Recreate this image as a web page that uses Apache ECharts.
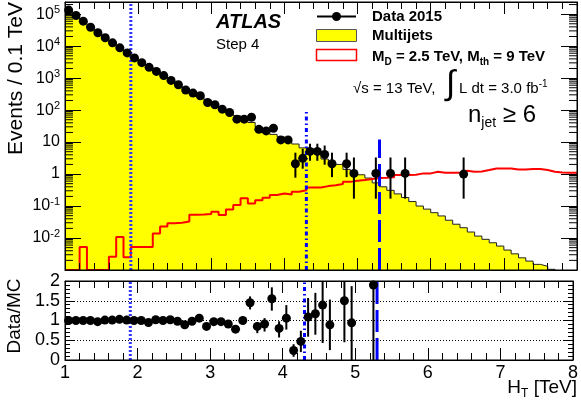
<!DOCTYPE html>
<html><head><meta charset="utf-8">
<script src="https://cdn.jsdelivr.net/npm/echarts@6/dist/echarts.min.js"></script>
<style>html,body{margin:0;padding:0;background:#fff}#c{width:581px;height:402px}</style>
</head><body><div id="c"></div>
<script>
// ---- DATA ----
const binEdges = [1.0,1.1,1.2,1.3,1.4,1.5,1.6,1.7,1.8,1.9,2.0,2.1,2.2,2.3,2.4,2.5,2.6,2.7,2.8,2.9,
  3.0,3.1,3.2,3.3,3.4,3.5,3.6,3.7,3.8,3.9,4.0,4.1,4.2,4.3,4.4,4.5,4.6,4.7,4.8,4.9,
  5.0,5.1,5.2,5.3,5.4,5.5,5.6,5.7,5.8,5.9,6.0,6.1,6.2,6.3,6.4,6.5,6.6,6.7,6.8,6.9,
  7.0,7.1,7.2,7.3,7.4,7.5,7.6,7.7,7.8,7.9,8.0];
const multijets = [134000,91000,60500,39000,27000,18100,12600,8600,6100,4280,
  3040,2280,1590,1200,835,635,478,348,266,204,
  152,110,92,67,52,41,29.4,24.6,17.4,14.6,
  11,8.7,6.6,4.7,4.4,2.95,2.36,2.0,1.4,1.1,
  0.95,0.75,0.53,0.40,0.31,0.24,0.185,0.138,0.10,0.08,
  0.062,0.049,0.036,0.027,0.021,0.0154,0.0115,0.0091,0.0071,0.0056,
  0.0042,0.0032,0.0024,0.0019,0.0015,0.0013,0.00105,0.0007,0.0005,0.0004];
const signal = [0,0,0.0052,0,0,0,0.0026,0.0108,0.0025,0.0052,
  0.0052,0.0052,0.0138,0.023,0.029,0.030,0.033,0.053,0.054,0.056,
  0.066,0.052,0.078,0.107,0.174,0.12,0.153,0.181,0.22,0.248,
  0.23,0.28,0.31,0.38,0.38,0.42,0.45,0.485,0.57,0.62,
  0.65,0.70,0.75,0.77,0.80,0.93,0.93,0.95,1.05,1.05,
  1.18,1.1,1.1,1.1,1.27,1.18,1.2,1.33,1.5,1.5,
  1.5,1.4,1.4,1.45,1.45,1.33,1.18,1.12,1.1,1.1];
const dataX = [1.05,1.15,1.25,1.35,1.45,1.55,1.65,1.75,1.85,1.95,2.05,2.15,2.25,2.35,2.45,2.55,2.65,2.75,2.85,2.95,
  3.05,3.15,3.25,3.35,3.45,3.55,3.65,3.75,3.85,3.95,4.05,4.15,4.25,4.35,4.45,4.55,4.65,4.85,4.95,5.25,5.45,5.65,6.45];
const dataY = [134000,91000,60500,39000,26300,18300,12700,8850,6150,4280,3040,2170,1620,1200,850,620,425,340,282,173,
  147,107,84,52,52,60,25,22.4,27,11.7,11.7,2.1,3.1,5.1,5.1,4.1,2.1,2.1,1.05,1.05,1.05,1.05,1.0];
const dataErrLo = [null,null,null,null,null,null,null,null,null,null,null,null,null,null,null,null,null,null,null,null,
  null,null,null,null,null,null,null,null,null,null,null,0.77,1.47,2.6,2.6,1.96,0.8,0.8,0.17,0.17,0.17,0.17,0.17];
const dataErrHi = [null,null,null,null,null,null,null,null,null,null,null,null,null,null,null,null,null,null,null,null,
  null,null,null,null,null,null,null,null,null,null,null,4.66,6.2,8.9,8.9,7.8,4.66,4.66,3.3,3.3,3.3,3.3,3.3];
const ratioX = [1.05,1.15,1.25,1.35,1.45,1.55,1.65,1.75,1.85,1.95,2.05,2.15,2.25,2.35,2.45,2.55,2.65,2.75,2.85,2.95,
  3.05,3.15,3.25,3.35,3.45,3.55,3.65,3.75,3.85,3.95,4.05,4.15,4.25,4.35,4.45,4.55,4.65,4.85,4.95,5.25];
const ratioY = [1.0,1.0,1.0,1.0,0.97,1.01,1.01,1.03,1.01,1.0,1.0,0.95,1.02,1.0,1.02,0.98,0.89,0.98,1.06,0.85,
  0.97,0.97,0.91,0.78,1.0,1.45,0.85,0.91,1.55,0.80,1.06,0.24,0.47,1.09,1.17,1.39,0.89,1.5,0.94,1.9];
const ratioErrLo = [null,null,null,null,null,null,null,null,null,null,null,null,null,null,null,null,null,null,null,null,
  null,null,null,null,null,1.28,0.68,0.72,1.25,0.57,0.77,0.08,0.2,0.59,0.64,0.43,0.25,0.45,0,0];
const ratioErrHi = [null,null,null,null,null,null,null,null,null,null,null,null,null,null,null,null,null,null,null,null,
  null,null,null,null,null,1.61,0.96,1.06,1.84,0.98,1.39,0.40,0.74,1.57,1.70,2.3,1.53,2.3,1.87,2.6];
const cutValues = [1.9, 4.3, 5.3];
const cutTopsMain = [240000, 100, 12];
const xTickLabels = ['1','2','3','4','5','6','7','8'];
const ratioTickLabels = ['0','0.5','1','1.5','2'];

// ---- CHART ----
const FONT = 'Liberation Sans, Arial, Helvetica, sans-serif';
const yMin = 0.001, yMax = 240000;
function hist(counts){
  const pts = counts.map((v,i)=>[binEdges[i], v>0 ? v : yMin]);
  pts.push([binEdges[binEdges.length-1], pts[pts.length-1][1]]);
  return pts;
}
const minorVals = [];
for (let e=-3;e<=5;e++) for (let k=2;k<=9;k++){ const v=k*Math.pow(10,e); if (v<yMax) minorVals.push([1,v]); }

const cutStyles = [
  {color:'#3030ff', width:3, type:[2,2]},
  {color:'#0000ff', width:3, type:[4,3,1.5,3]},
  {color:'#0000ff', width:3, type:[22,6]}
];
function errRender(params, api){
  const x=api.value(0), lo=api.value(1), hi=api.value(2);
  const a=api.coord([x,lo]), b=api.coord([x,hi]);
  return {type:'line', shape:{x1:a[0],y1:a[1],x2:b[0],y2:b[1]}, style:{stroke:'#000', lineWidth:2}};
}
const series = [];
series.push({name:'Multijets', type:'line', xAxisIndex:0, yAxisIndex:0, step:'end', data:hist(multijets),
  showSymbol:false, symbol:'none', lineStyle:{color:'#222', width:1}, areaStyle:{color:'#ffff00', opacity:1, origin:'start'},
  clip:true, z:1, animation:false, silent:true});
series.push({name:'Signal', type:'line', xAxisIndex:0, yAxisIndex:0, step:'end', data:hist(signal),
  symbol:'none', lineStyle:{color:'#ff0000', width:2}, clip:true, z:2, animation:false, silent:true});
cutValues.forEach((c,i)=>{
  series.push({type:'line', xAxisIndex:0, yAxisIndex:0, data:[[c,yMin],[c,cutTopsMain[i]]], symbol:'none',
    lineStyle:cutStyles[i], z:3, animation:false, silent:true, clip:true});
  series.push({type:'line', xAxisIndex:2, yAxisIndex:2, data:[[c,0],[c,2]], symbol:'none',
    lineStyle:cutStyles[i], z:3, animation:false, silent:true, clip:true});
});
series.push({type:'custom', xAxisIndex:0, yAxisIndex:0, renderItem:errRender, clip:true, z:4, animation:false, silent:true,
  encode:{x:0,y:[1,2]},
  data:dataX.map((x,i)=>dataErrLo[i]==null?null:[x,dataErrLo[i],dataErrHi[i]]).filter(d=>d)});
series.push({name:'Data 2015', type:'scatter', xAxisIndex:0, yAxisIndex:0, symbol:'circle', symbolSize:9,
  itemStyle:{color:'#000', opacity:1}, data:dataX.map((x,i)=>[x,dataY[i]]), z:5, animation:false, silent:true});
series.push({type:'custom', xAxisIndex:2, yAxisIndex:2, renderItem:errRender, clip:true, z:4, animation:false, silent:true,
  encode:{x:0,y:[1,2]},
  data:ratioX.map((x,i)=>ratioErrLo[i]==null?null:[x,ratioErrLo[i],ratioErrHi[i]]).filter(d=>d)});
series.push({type:'scatter', xAxisIndex:2, yAxisIndex:2, symbol:'circle', symbolSize:9, itemStyle:{color:'#000', opacity:1},
  data:ratioX.map((x,i)=>[x,ratioY[i]]), z:5, animation:false, silent:true, clip:true});
// log minor ticks on both sides
series.push({type:'custom', xAxisIndex:0, yAxisIndex:0, z:8, animation:false, silent:true, clip:false,
  encode:{x:0,y:1}, data:minorVals,
  renderItem:function(params, api){
    const v=api.value(1); const p=api.coord([1,v]); const q=api.coord([8,v]);
    return {type:'group', children:[
      {type:'line', shape:{x1:p[0],y1:p[1],x2:p[0]+8,y2:p[1]}, style:{stroke:'#000',lineWidth:1}},
      {type:'line', shape:{x1:q[0]-8,y1:q[1],x2:q[0],y2:q[1]}, style:{stroke:'#000',lineWidth:1}}
    ]};
  }});

function xAxisDef(grid, pos, labels){
  return {type:'value', gridIndex:grid, position:pos, min:1, max:8, interval:1, z:8,
    axisLine:{show:true, onZero:false, lineStyle:{color:'#000', width:1}},
    axisTick:{show:true, inside:true, length:12, lineStyle:{color:'#000'}},
    minorTick:{show:true, splitNumber:5, length:7, lineStyle:{color:'#000'}},
    splitLine:{show:false},
    axisLabel:{show:labels, margin:4, fontSize:18, color:'#000', fontFamily:FONT,
      formatter:(v)=>{const i=Math.round(v)-1; return xTickLabels[i]!==undefined && Math.abs(v-Math.round(v))<1e-6 ? xTickLabels[i] : '';}}};
}
function logLabel(v){
  const l=Math.log10(v); const e=Math.round(l);
  if (Math.abs(l-e)>1e-6 || e<-2) return '';
  if (e===0) return '{b|1}';
  if (e===1) return '{b|10}';
  return '{b|10}{s|'+e+'}';
}
const option = {
  backgroundColor:'#fff',
  animation:false,
  grid:[
    {left:65, right:4, top:2, height:268, show:true, borderColor:'#000', borderWidth:1, z:9, backgroundColor:'transparent'},
    {left:65, right:4, top:281, height:79, show:true, borderColor:'#000', borderWidth:1, z:9, backgroundColor:'transparent'}
  ],
  xAxis:[ xAxisDef(0,'bottom',false), xAxisDef(0,'top',false), xAxisDef(1,'bottom',true), xAxisDef(1,'top',false) ],
  yAxis:[
    {type:'log', logBase:10, gridIndex:0, position:'left', min:yMin, max:yMax, splitNumber:8, z:8,
      axisLine:{show:true, lineStyle:{color:'#000'}},
      axisTick:{show:true, inside:true, length:16, lineStyle:{color:'#000'}},
      splitLine:{show:false}, minorTick:{show:false},
      axisLabel:{show:true, margin:5, showMinLabel:false, showMaxLabel:false, formatter:logLabel,
        rich:{b:{fontSize:16, fontFamily:FONT, color:'#000', lineHeight:20},
              s:{fontSize:11, fontFamily:FONT, color:'#000', lineHeight:12, verticalAlign:'top'}}}},
    {type:'log', logBase:10, gridIndex:0, position:'right', min:yMin, max:yMax, splitNumber:8, z:8,
      axisLine:{show:true, lineStyle:{color:'#000'}},
      axisTick:{show:true, inside:true, length:16, lineStyle:{color:'#000'}},
      splitLine:{show:false}, axisLabel:{show:false}},
    {type:'value', gridIndex:1, position:'left', min:0, max:2, interval:0.5, z:8,
      axisLine:{show:true, lineStyle:{color:'#000'}},
      axisTick:{show:true, inside:true, length:10, lineStyle:{color:'#000'}},
      minorTick:{show:true, splitNumber:5, length:5, lineStyle:{color:'#000'}},
      splitLine:{show:true, lineStyle:{color:'#000', width:1, type:[1,2]}},
      axisLabel:{show:true, margin:5, fontSize:18, color:'#000', fontFamily:FONT,
        formatter:(v)=>{const i=Math.round(v*2); return Math.abs(v*2-i)<1e-6 ? ratioTickLabels[i] : '';}}},
    {type:'value', gridIndex:1, position:'right', min:0, max:2, interval:0.5, z:8,
      axisLine:{show:true, lineStyle:{color:'#000'}},
      axisTick:{show:true, inside:true, length:10, lineStyle:{color:'#000'}},
      minorTick:{show:true, splitNumber:5, length:5, lineStyle:{color:'#000'}},
      splitLine:{show:false}, axisLabel:{show:false}}
  ],
  series:series,
  graphic:[
    // legend
    {type:'line', shape:{x1:317,y1:16.5,x2:356,y2:16.5}, style:{stroke:'#000', lineWidth:2}, z:20},
    {type:'circle', shape:{cx:336.5, cy:16.5, r:4.5}, style:{fill:'#000'}, z:21},
    {type:'text', x:372, y:16.5, z:20, style:{text:'Data 2015', fontSize:15, fontWeight:'bold', fontFamily:FONT, fill:'#000',
      align:'left', verticalAlign:'middle', textAlign:'left', textVerticalAlign:'middle'}},
    {type:'rect', shape:{x:316.5, y:29.5, width:40, height:12}, style:{fill:'#ffff00', stroke:'#555', lineWidth:1}, z:20},
    {type:'text', x:372, y:36, z:20, style:{text:'Multijets', fontSize:15, fontWeight:'bold', fontFamily:FONT, fill:'#000',
      align:'left', verticalAlign:'middle', textAlign:'left', textVerticalAlign:'middle'}},
    {type:'rect', shape:{x:316.5, y:49.5, width:40, height:11}, style:{fill:'#fff', stroke:'#ff0000', lineWidth:1.5}, z:20},
    {type:'text', x:372, y:57, z:20, style:{text:'M{sub|D} = 2.5 TeV, M{sub|th} = 9 TeV', fontSize:15, fontWeight:'bold',
      fontFamily:FONT, fill:'#000', lineHeight:20, align:'left', verticalAlign:'middle', textAlign:'left', textVerticalAlign:'middle',
      rich:{sub:{fontSize:10, fontWeight:'bold', fontFamily:FONT, fill:'#000', color:'#000', lineHeight:10, verticalAlign:'bottom'}}}},
    // labels
    {type:'text', x:216, y:22, z:20, style:{text:'ATLAS', fontSize:20, fontWeight:'bold', fontStyle:'italic', fontFamily:FONT, fill:'#000',
      align:'left', verticalAlign:'middle', textAlign:'left', textVerticalAlign:'middle'}},
    {type:'text', x:216, y:45, z:20, style:{text:'Step 4', fontSize:15, fontFamily:FONT, fill:'#000',
      align:'left', verticalAlign:'middle', textAlign:'left', textVerticalAlign:'middle'}},
    {type:'text', x:353, y:89, z:20, style:{text:'√s = 13 TeV,', fontSize:15, fontFamily:FONT, fill:'#000',
      align:'left', verticalAlign:'middle', textAlign:'left', textVerticalAlign:'middle'}},
    {type:'text', x:446, y:85, z:20, style:{text:'∫', fontSize:34, fontFamily:FONT, fill:'#000',
      align:'left', verticalAlign:'middle', textAlign:'left', textVerticalAlign:'middle'}},
    {type:'text', x:459, y:89, z:20, style:{text:'L dt = 3.0 fb{sup|-1}', fontSize:15, fontFamily:FONT, fill:'#000', lineHeight:20,
      align:'left', verticalAlign:'middle', textAlign:'left', textVerticalAlign:'middle',
      rich:{sup:{fontSize:10, fontFamily:FONT, fill:'#000', color:'#000', lineHeight:10, verticalAlign:'top'}}}},
    {type:'text', x:468, y:115, z:20, style:{text:'n{sub|jet} ≥ 6', fontSize:24, fontFamily:FONT, fill:'#000', lineHeight:30,
      align:'left', verticalAlign:'middle', textAlign:'left', textVerticalAlign:'middle',
      rich:{sub:{fontSize:14, fontFamily:FONT, fill:'#000', color:'#000', lineHeight:14, verticalAlign:'bottom'}}}},
    // axis titles
    {type:'text', x:16, y:2, rotation:Math.PI/2, z:20, style:{text:'Events / 0.1 TeV', fontSize:21, fontFamily:FONT, fill:'#000',
      align:'right', verticalAlign:'middle', textAlign:'right', textVerticalAlign:'middle'}},
    {type:'text', x:15, y:316, rotation:Math.PI/2, z:20, style:{text:'Data/MC', fontSize:19, fontFamily:FONT, fill:'#000',
      align:'center', verticalAlign:'middle', textAlign:'center', textVerticalAlign:'middle'}},
    {type:'text', x:577, y:388, z:20, style:{text:'H{sub|T} [TeV]', fontSize:19, fontFamily:FONT, fill:'#000', lineHeight:24,
      align:'right', verticalAlign:'middle', textAlign:'right', textVerticalAlign:'middle',
      rich:{sub:{fontSize:12, fontFamily:FONT, fill:'#000', color:'#000', lineHeight:12, verticalAlign:'bottom'}}}}
  ]
};
const chart = echarts.init(document.getElementById('c'), null, {renderer:'canvas'});
chart.setOption(option);
</script></body></html>
